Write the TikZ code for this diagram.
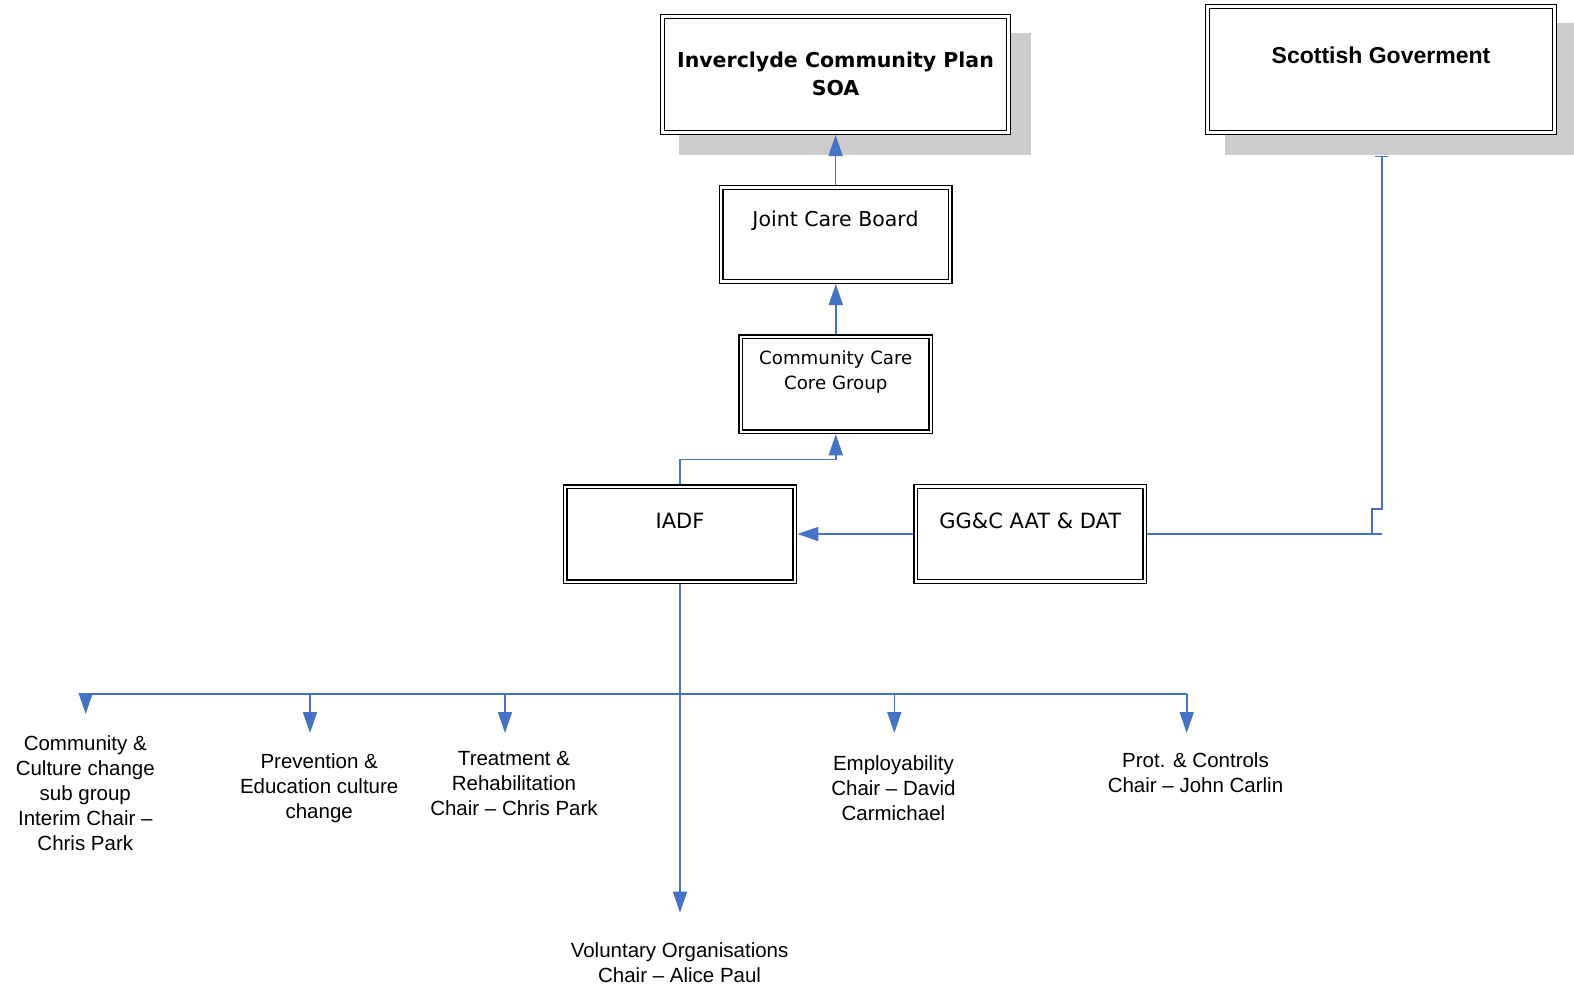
\documentclass[tikz,border=0pt]{standalone}
\usepackage{fontspec}
\setmainfont{Liberation Sans}
\newfontfamily\boxfont{DejaVu Sans}
\usetikzlibrary{arrows.meta}
\definecolor{connblue}{HTML}{4472C4}
\definecolor{shadowgray}{HTML}{CCCCCC}
\begin{document}
\begin{tikzpicture}[x=1pt,y=-1pt,
  box/.style={draw=black, line width=1.4pt, double=white, double distance=2.4pt,
    fill=white, inner sep=0pt, outer sep=2.6pt, rectangle},
  boxtext/.style={font=\boxfont\fontsize{20.5}{25}\selectfont, align=center, inner sep=0pt},
  boldboxtext/.style={font=\boxfont\bfseries\fontsize{20.5}{28}\selectfont, align=center, inner sep=0pt},
  label/.style={font=\fontsize{20.5}{25}\selectfont, align=center, inner sep=0pt},
  conn/.style={draw=connblue, line width=1.6pt},
  arr/.style={-{Triangle[length=21pt,width=14pt]}},
  shadow/.style={fill=shadowgray}
]
\useasboundingbox (0,0) rectangle (1574,993);

% shadows
\fill[shadow] (679,33) rectangle (1031,155);
\fill[shadow] (1225,23) rectangle (1577,155);

% boxes
\node[box, minimum width=346pt, minimum height=116pt] (icp) at (835.5,74.5) {};
\node[box, minimum width=347pt, minimum height=126pt] (sg) at (1381,69.5) {};
\node[box, minimum width=229pt, minimum height=94pt] (jcb) at (835.6,234.4) {};
\node[box, minimum width=190pt, minimum height=95pt] (cccg) at (835.8,384.2) {};
\node[box, minimum width=229.5pt, minimum height=95pt] (iadf) at (680,534.2) {};
\node[box, minimum width=229pt, minimum height=95pt] (ggc) at (1030.3,534) {};

% box texts
\node[boldboxtext] (icpt) at (835.5,73.5) {Inverclyde Community Plan\\SOA};
\node[font=\bfseries\fontsize{23}{28}\selectfont, inner sep=0pt] (sgt) at (1381,55.5) {Scottish Goverment};
\node[boxtext] (jcbt) at (835.5,221) {Joint Care Board};
\node[boxtext, font=\boxfont\fontsize{18.2}{25}\selectfont] (cccgt) at (835.8,371.5) {Community Care\\Core Group};
\node[boxtext, font=\boxfont\fontsize{21}{25}\selectfont] (iadft) at (680,520.5) {IADF};
\node[boxtext, font=\boxfont\fontsize{21}{25}\selectfont] (ggct) at (1030.3,520.5) {GG\&C AAT \& DAT};

% connectors between boxes
\draw[conn,arr] (jcb.north) -- (jcb.north |- icp.south);
\draw[conn,arr] (cccg.north) -- (cccg.north |- jcb.south);
\draw[conn,arr] (iadf.north) -- ++(0,-24.7) -| (cccg.south);
\draw[conn,arr] (ggc.west) -- (ggc.west -| iadf.east);

% Scottish Government link
\coordinate (sgbot) at (1381.7,155.5);
\coordinate (sgstep) at (1371.7,509);
\draw[conn] (ggc.east) -- (ggc.east -| sgbot);
\draw[conn,{Bar[width=13pt]}-] (sgbot) -- (sgbot |- sgstep) -- (sgstep) -- (sgstep |- ggc.east);

% bus
\coordinate (busL) at (85.7,694);
\coordinate (busR) at (1186.7,694);
\coordinate (voltip) at (680,912.7);
\coordinate (tipA) at (85.7,714);
\coordinate (tipB) at (310,733);
\coordinate (tipC) at (505,733);
\coordinate (tipD) at (894.3,733);
\coordinate (tipE) at (1186.7,733);
\draw[conn] (busL) -- (busR);
\draw[conn,arr] (iadf.south) -- (voltip);
\draw[conn,arr] (tipA |- busL) -- (tipA);
\draw[conn,arr] (tipB |- busL) -- (tipB);
\draw[conn,arr] (tipC |- busL) -- (tipC);
\draw[conn,arr] (tipD |- busL) -- (tipD);
\draw[conn,arr] (tipE |- busL) -- (tipE);

% labels
\node[label] (lcomm) at (85.3,793) {Community \&\\Culture change\\sub group\\Interim Chair --\\Chris Park};
\node[label] (lprev) at (319.2,788.5) {Prevention \&\\Education culture\\change};
\node[label] (ltreat) at (514,783) {Treatment \&\\Rehabilitation\\Chair -- Chris Park};
\node[label] (lemp) at (893.4,788) {Employability\\Chair -- David\\Carmichael};
\node[label] (lprot) at (1195.5,773) {Prot. \& Controls\\Chair -- John Carlin};
\node[label] (lvol) at (679.6,963) {Voluntary Organisations\\Chair -- Alice Paul};
\end{tikzpicture}
\end{document}
